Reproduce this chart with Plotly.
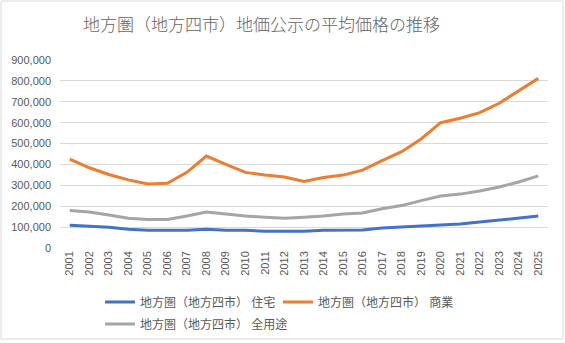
import plotly.graph_objects as go

years = [str(y) for y in range(2001, 2026)]

residential = [109000, 104000, 99000, 90000, 85000, 85000, 85000, 90000, 85000, 85000,
               80000, 80000, 80000, 85000, 86000, 86000, 96000, 100000, 105000, 110000,
               115000, 124000, 134000, 144000, 153000]
commercial = [426000, 384000, 352000, 326000, 306000, 310000, 362000, 440000, 400000, 362000,
              349000, 340000, 319000, 337000, 349000, 373000, 418000, 461000, 522000, 600000,
              621000, 648000, 693000, 753000, 812000]
all_use = [180000, 172000, 158000, 142000, 137000, 137000, 153000, 172000, 163000, 153000,
           147000, 142000, 147000, 153000, 163000, 168000, 188000, 203000, 227000, 249000,
           258000, 273000, 292000, 316000, 345000]

series_names = ["地方圏（地方四市） 住宅", "地方圏（地方四市） 商業", "地方圏（地方四市） 全用途"]
series_colors = ["#4472C4", "#ED7D31", "#A5A5A5"]
y_ticks = [0, 100000, 200000, 300000, 400000, 500000, 600000, 700000, 800000, 900000]

FONT = "Liberation Sans, Noto Sans CJK JP, sans-serif"
TEXT = "#595959"

fig = go.Figure()
for vals, name, color, lg in zip([residential, commercial, all_use], series_names,
                                 series_colors, ["legend", "legend", "legend2"]):
    fig.add_trace(go.Scatter(x=years, y=vals, mode="lines", name=name,
                             line=dict(color=color, width=3), legend=lg))

W, H = 565, 343
L, R, T, B = 60, 17, 60, 95
pw, ph = W - L - R, H - T - B

def px_x(x):
    return (x - L) / pw

def px_y(y):
    return (H - B - y) / ph

legend_style = dict(orientation="h", xanchor="left", yanchor="middle",
                    xref="container", yref="container",
                    font=dict(family=FONT, size=12, color=TEXT),
                    bgcolor="rgba(0,0,0,0)", entrywidthmode="pixels",
                    tracegroupgap=0, itemwidth=30)

fig.update_layout(
    width=W, height=H,
    margin=dict(l=L, r=R, t=T, b=B, autoexpand=False),
    paper_bgcolor="white", plot_bgcolor="white",
    title=dict(text="地方圏（地方四市）地価公示の平均価格の推移",
               font=dict(family="Noto Sans CJK JP, sans-serif", size=17, color="#646464",
                         weight=300),
               x=261.5 / W, xanchor="center", y=1 - 25 / H, yanchor="middle"),
    xaxis=dict(type="category", range=[-0.5, 24.5], tickangle=-90,
               tickfont=dict(family=FONT, size=11, color=TEXT),
               showgrid=False, showline=False, ticks="", zeroline=False,
               automargin=False),
    yaxis=dict(range=[0, 900000], tickvals=y_ticks,
               ticktext=[f"{v:,}" for v in y_ticks],
               tickfont=dict(family=FONT, size=11, color=TEXT),
               showgrid=True, gridcolor="#D9D9D9", gridwidth=1,
               zeroline=False, showline=False, ticks="", ticklabelstandoff=8,
               automargin=False),
    legend=dict(x=100 / W, y=1 - 302 / H, entrywidth=133, **legend_style),
    legend2=dict(x=100 / W, y=1 - 324 / H, entrywidth=220, **legend_style),
    showlegend=True,
)

# chart-area border
fig.add_shape(type="rect", xref="paper", yref="paper",
              x0=px_x(1), x1=px_x(563), y0=px_y(339), y1=px_y(1),
              line=dict(color="#D9D9D9", width=1), fillcolor="rgba(0,0,0,0)", layer="below")

fig.write_html("out.html")
